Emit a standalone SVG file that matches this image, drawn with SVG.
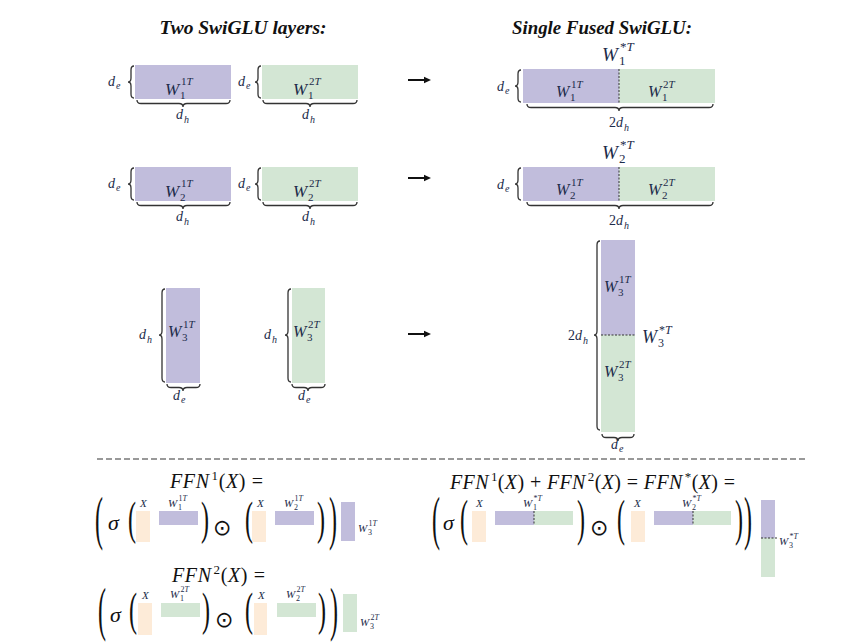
<svg xmlns="http://www.w3.org/2000/svg" width="865" height="643" viewBox="0 0 865 643">
<style>
.bg{fill:#fff}
.ttl{font-family:"Liberation Serif",serif;font-weight:bold;font-style:italic;font-size:18px;fill:#111}
.lb{font-family:"Liberation Serif",serif;fill:#1c2b4a}
.it{font-style:italic}
.fm{font-family:"Liberation Serif",serif;fill:#111}
.od{font-family:"DejaVu Sans",sans-serif;fill:#111}
.br{fill:none;stroke:#333;stroke-width:1.3}
.pu{fill:#c1bddc}.gr{fill:#d3e6d4}.pe{fill:#fdebd8}
.dv{stroke:#333;stroke-width:1;stroke-dasharray:2 1.5}
.ar{stroke:#111;stroke-width:2}
.sep{stroke:#999;stroke-width:2;stroke-dasharray:6 3}
</style>
<defs>
<marker id="ah" markerWidth="8" markerHeight="8" refX="1" refY="4" orient="auto" markerUnits="userSpaceOnUse">
<path d="M0,0.8 L7,4 L0,7.2 Z" fill="#111"/>
</marker>
</defs>
<rect class="bg" x="0" y="0" width="865" height="643"/>

<g id="titles">
<text class="ttl" x="243" y="34" text-anchor="middle" textLength="167" lengthAdjust="spacingAndGlyphs">Two SwiGLU layers:</text>
<text class="ttl" x="602" y="34" text-anchor="middle" textLength="180" lengthAdjust="spacingAndGlyphs">Single Fused SwiGLU:</text>
</g>

<!-- Row 1 left -->
<g id="w1_1">
<rect class="pu" x="135" y="65" width="96" height="34"/>
<path class="br" d="M134,66 Q131,66 131,70 L131,78 Q131,82 128,82 Q131,82 131,86 L131,94 Q131,98 134,98"/>
<path class="br" d="M137,100 Q137,103.5 141,103.5 L179,103.5 Q183,103.5 183,107 Q183,103.5 187,103.5 L226,103.5 Q230,103.5 230,100"/>
<text class="lb it" x="108" y="86" font-size="14">d</text><text class="lb it" x="116" y="89" font-size="10">e</text>
<text class="lb it" x="176" y="119" font-size="14">d</text><text class="lb it" x="184" y="123" font-size="10">h</text>
<text class="lb it" x="165" y="95" font-size="17">W</text><text class="lb" x="180" y="99" font-size="11">1</text><text class="lb" x="181" y="85" font-size="11">1<tspan class="it">T</tspan></text>
</g>
<g id="w1_2">
<rect class="gr" x="262" y="65" width="96" height="34"/>
<path class="br" d="M261,66 Q258,66 258,70 L258,78 Q258,82 255,82 Q258,82 258,86 L258,94 Q258,98 261,98"/>
<path class="br" d="M263,100 Q263,103.5 267,103.5 L306,103.5 Q310,103.5 310,107 Q310,103.5 314,103.5 L353,103.5 Q357,103.5 357,100"/>
<text class="lb it" x="238" y="86" font-size="14">d</text><text class="lb it" x="246" y="89" font-size="10">e</text>
<text class="lb it" x="302" y="119" font-size="14">d</text><text class="lb it" x="310" y="123" font-size="10">h</text>
<text class="lb it" x="293" y="95" font-size="17">W</text><text class="lb" x="308" y="99" font-size="11">1</text><text class="lb" x="309" y="85" font-size="11">2<tspan class="it">T</tspan></text>
</g>

<!-- Row 2 left -->
<g id="w2_1">
<rect class="pu" x="135" y="167" width="96" height="34"/>
<path class="br" d="M134,168 Q131,168 131,172 L131,180 Q131,184 128,184 Q131,184 131,188 L131,196 Q131,200 134,200"/>
<path class="br" d="M137,202 Q137,205.5 141,205.5 L179,205.5 Q183,205.5 183,209 Q183,205.5 187,205.5 L226,205.5 Q230,205.5 230,202"/>
<text class="lb it" x="108" y="188" font-size="14">d</text><text class="lb it" x="116" y="191" font-size="10">e</text>
<text class="lb it" x="176" y="221" font-size="14">d</text><text class="lb it" x="184" y="225" font-size="10">h</text>
<text class="lb it" x="165" y="197" font-size="17">W</text><text class="lb" x="180" y="201" font-size="11">2</text><text class="lb" x="181" y="187" font-size="11">1<tspan class="it">T</tspan></text>
</g>
<g id="w2_2">
<rect class="gr" x="262" y="167" width="96" height="34"/>
<path class="br" d="M261,168 Q258,168 258,172 L258,180 Q258,184 255,184 Q258,184 258,188 L258,196 Q258,200 261,200"/>
<path class="br" d="M263,202 Q263,205.5 267,205.5 L306,205.5 Q310,205.5 310,209 Q310,205.5 314,205.5 L353,205.5 Q357,205.5 357,202"/>
<text class="lb it" x="238" y="188" font-size="14">d</text><text class="lb it" x="246" y="191" font-size="10">e</text>
<text class="lb it" x="302" y="221" font-size="14">d</text><text class="lb it" x="310" y="225" font-size="10">h</text>
<text class="lb it" x="293" y="197" font-size="17">W</text><text class="lb" x="308" y="201" font-size="11">2</text><text class="lb" x="309" y="187" font-size="11">2<tspan class="it">T</tspan></text>
</g>

<!-- Row 3 left -->
<g id="w3_1">
<rect class="pu" x="166" y="288" width="34" height="95"/>
<path class="br" d="M165,289 Q162,289 162,293 L162,331 Q162,335 159,335 Q162,335 162,339 L162,378 Q162,382 165,382"/>
<path class="br" d="M167,384 Q167,387.5 171,387.5 L179,387.5 Q183,387.5 183,391 Q183,387.5 187,387.5 L196,387.5 Q200,387.5 200,384"/>
<text class="lb it" x="139" y="339" font-size="14">d</text><text class="lb it" x="147" y="343" font-size="10">h</text>
<text class="lb it" x="173" y="400" font-size="14">d</text><text class="lb it" x="181" y="403" font-size="10">e</text>
<text class="lb it" x="168" y="337" font-size="16">W</text><text class="lb" x="182" y="341" font-size="11">3</text><text class="lb" x="183" y="328" font-size="11">1<tspan class="it">T</tspan></text>
</g>
<g id="w3_2">
<rect class="gr" x="292" y="288" width="33" height="95"/>
<path class="br" d="M291,289 Q288,289 288,293 L288,331 Q288,335 285,335 Q288,335 288,339 L288,378 Q288,382 291,382"/>
<path class="br" d="M292,384 Q292,387.5 296,387.5 L304,387.5 Q308,387.5 308,391 Q308,387.5 312,387.5 L321,387.5 Q325,387.5 325,384"/>
<text class="lb it" x="264" y="339" font-size="14">d</text><text class="lb it" x="272" y="343" font-size="10">h</text>
<text class="lb it" x="298" y="400" font-size="14">d</text><text class="lb it" x="306" y="403" font-size="10">e</text>
<text class="lb it" x="293" y="337" font-size="16">W</text><text class="lb" x="307" y="341" font-size="11">3</text><text class="lb" x="308" y="328" font-size="11">2<tspan class="it">T</tspan></text>
</g>

<!-- Arrows -->
<g id="connectors">
<line class="ar" x1="408" y1="80" x2="425" y2="80" marker-end="url(#ah)"/>
<line class="ar" x1="408" y1="178" x2="425" y2="178" marker-end="url(#ah)"/>
<line class="ar" x1="408" y1="334" x2="425" y2="334" marker-end="url(#ah)"/>
</g>

<!-- Right row 1 -->
<g id="w1_fused">
<rect class="pu" x="523" y="69" width="96" height="34"/>
<rect class="gr" x="619" y="69" width="96" height="34"/>
<line class="dv" x1="619" y1="69" x2="619" y2="103"/>
<path class="br" d="M521,70 Q518,70 518,74 L518,82 Q518,86 515,86 Q518,86 518,90 L518,98 Q518,102 521,102"/>
<path class="br" d="M527,104 Q527,107.5 531,107.5 L615,107.5 Q619,107.5 619,111 Q619,107.5 623,107.5 L709,107.5 Q713,107.5 713,104"/>
<text class="lb it" x="497" y="91" font-size="14">d</text><text class="lb it" x="505" y="94" font-size="10">e</text>
<text class="lb" x="609" y="127" font-size="14">2<tspan class="it">d</tspan></text><text class="lb it" x="624" y="131" font-size="10">h</text>
<text class="lb it" x="556" y="97" font-size="16">W</text><text class="lb" x="570" y="101" font-size="11">1</text><text class="lb" x="571" y="88" font-size="11">1<tspan class="it">T</tspan></text>
<text class="lb it" x="648" y="97" font-size="16">W</text><text class="lb" x="662" y="101" font-size="11">1</text><text class="lb" x="663" y="88" font-size="11">2<tspan class="it">T</tspan></text>
<text class="lb it" x="602" y="61" font-size="19">W</text><text class="lb" x="619" y="65" font-size="13">1</text><text class="lb" x="620" y="51" font-size="13">*<tspan class="it">T</tspan></text>
</g>

<!-- Right row 2 -->
<g id="w2_fused">
<rect class="pu" x="523" y="167" width="96" height="34"/>
<rect class="gr" x="619" y="167" width="96" height="34"/>
<line class="dv" x1="619" y1="167" x2="619" y2="201"/>
<path class="br" d="M521,168 Q518,168 518,172 L518,180 Q518,184 515,184 Q518,184 518,188 L518,196 Q518,200 521,200"/>
<path class="br" d="M527,202 Q527,205.5 531,205.5 L615,205.5 Q619,205.5 619,209 Q619,205.5 623,205.5 L709,205.5 Q713,205.5 713,202"/>
<text class="lb it" x="497" y="189" font-size="14">d</text><text class="lb it" x="505" y="192" font-size="10">e</text>
<text class="lb" x="609" y="225" font-size="14">2<tspan class="it">d</tspan></text><text class="lb it" x="624" y="229" font-size="10">h</text>
<text class="lb it" x="556" y="195" font-size="16">W</text><text class="lb" x="570" y="199" font-size="11">2</text><text class="lb" x="571" y="186" font-size="11">1<tspan class="it">T</tspan></text>
<text class="lb it" x="648" y="195" font-size="16">W</text><text class="lb" x="662" y="199" font-size="11">2</text><text class="lb" x="663" y="186" font-size="11">2<tspan class="it">T</tspan></text>
<text class="lb it" x="602" y="159" font-size="19">W</text><text class="lb" x="619" y="163" font-size="13">2</text><text class="lb" x="620" y="149" font-size="13">*<tspan class="it">T</tspan></text>
</g>

<!-- Right row 3 -->
<g id="w3_fused">
<rect class="pu" x="601" y="240" width="34" height="95"/>
<rect class="gr" x="601" y="335" width="34" height="97"/>
<line class="dv" x1="601" y1="335" x2="635" y2="335"/>
<path class="br" d="M600,241 Q597,241 597,245 L597,331 Q597,335 594,335 Q597,335 597,339 L597,426 Q597,430 600,430"/>
<path class="br" d="M602,434 Q602,437.5 606,437.5 L614,437.5 Q618,437.5 618,441 Q618,437.5 622,437.5 L630,437.5 Q634,437.5 634,434"/>
<text class="lb" x="568" y="340" font-size="14">2<tspan class="it">d</tspan></text><text class="lb it" x="583" y="344" font-size="10">h</text>
<text class="lb it" x="611" y="449" font-size="14">d</text><text class="lb it" x="619" y="452" font-size="10">e</text>
<text class="lb it" x="604" y="292" font-size="16">W</text><text class="lb" x="618" y="296" font-size="11">3</text><text class="lb" x="619" y="283" font-size="11">1<tspan class="it">T</tspan></text>
<text class="lb it" x="604" y="377" font-size="16">W</text><text class="lb" x="618" y="381" font-size="11">3</text><text class="lb" x="619" y="368" font-size="11">2<tspan class="it">T</tspan></text>
<text class="lb it" x="642" y="343" font-size="18">W</text><text class="lb" x="658" y="347" font-size="12">3</text><text class="lb" x="659" y="334" font-size="12">*<tspan class="it">T</tspan></text>
</g>

<line class="sep" x1="97" y1="459" x2="805" y2="459"/>

<!-- FFN1 formula -->
<g id="ffn1">
<text class="fm" x="170" y="488" font-size="20" textLength="93"><tspan class="it">FFN</tspan><tspan font-size="13" dx="2" dy="-8">1</tspan><tspan dy="8">(</tspan><tspan class="it">X</tspan>) =</text>
<text class="fm" font-size="24" transform="translate(95,538) scale(1,2.5)">(</text>
<text class="fm it" x="108" y="530" font-size="22">σ</text>
<text class="fm" font-size="24" transform="translate(128,534) scale(1,1.95)">(</text>
<rect class="pe" x="136" y="511" width="14" height="31"/>
<text class="lb it" x="140" y="507" font-size="11">X</text>
<rect class="pu" x="159" y="511" width="39" height="14"/>
<text class="lb it" x="168" y="507" font-size="11">W</text><text class="lb" x="178" y="510" font-size="8">1</text><text class="lb" x="178.5" y="501" font-size="8">1<tspan class="it">T</tspan></text>
<text class="fm" font-size="24" transform="translate(201,534) scale(1,1.95)">)</text>
<text class="od" x="213" y="535" font-size="22">⊙</text>
<text class="fm" font-size="24" transform="translate(245,534) scale(1,1.95)">(</text>
<rect class="pe" x="252" y="511" width="14" height="31"/>
<text class="lb it" x="257" y="507" font-size="11">X</text>
<rect class="pu" x="275" y="511" width="39" height="14"/>
<text class="lb it" x="284" y="507" font-size="11">W</text><text class="lb" x="294" y="510" font-size="8">2</text><text class="lb" x="294.5" y="501" font-size="8">1<tspan class="it">T</tspan></text>
<text class="fm" font-size="24" transform="translate(317,534) scale(1,1.95)">)</text>
<text class="fm" font-size="24" transform="translate(329,538) scale(1,2.5)">)</text>
<rect class="pu" x="341" y="502" width="14" height="39"/>
<text class="lb it" x="358" y="532" font-size="11">W</text><text class="lb" x="368" y="535" font-size="8">3</text><text class="lb" x="368.5" y="526" font-size="8">1<tspan class="it">T</tspan></text>
</g>

<!-- FFN2 formula -->
<g id="ffn2">
<text class="fm" x="172" y="582" font-size="20" textLength="93"><tspan class="it">FFN</tspan><tspan font-size="13" dx="2" dy="-8">2</tspan><tspan dy="8">(</tspan><tspan class="it">X</tspan>) =</text>
<text class="fm" font-size="24" transform="translate(98,629) scale(1,2.5)">(</text>
<text class="fm it" x="110" y="622" font-size="22">σ</text>
<text class="fm" font-size="24" transform="translate(129,625) scale(1,1.95)">(</text>
<rect class="pe" x="138" y="603" width="14" height="32"/>
<text class="lb it" x="142" y="599" font-size="11">X</text>
<rect class="gr" x="161" y="603" width="39" height="14"/>
<text class="lb it" x="170" y="598" font-size="11">W</text><text class="lb" x="180" y="601" font-size="8">1</text><text class="lb" x="180.5" y="592" font-size="8">2<tspan class="it">T</tspan></text>
<text class="fm" font-size="24" transform="translate(202,625) scale(1,1.95)">)</text>
<text class="od" x="215" y="627" font-size="22">⊙</text>
<text class="fm" font-size="24" transform="translate(245,625) scale(1,1.95)">(</text>
<rect class="pe" x="254" y="603" width="13" height="32"/>
<text class="lb it" x="258" y="599" font-size="11">X</text>
<rect class="gr" x="277" y="603" width="39" height="14"/>
<text class="lb it" x="286" y="598" font-size="11">W</text><text class="lb" x="296" y="601" font-size="8">2</text><text class="lb" x="296.5" y="592" font-size="8">2<tspan class="it">T</tspan></text>
<text class="fm" font-size="24" transform="translate(318,625) scale(1,1.95)">)</text>
<text class="fm" font-size="24" transform="translate(330,629) scale(1,2.5)">)</text>
<rect class="gr" x="343" y="594" width="14" height="38"/>
<text class="lb it" x="360" y="626" font-size="11">W</text><text class="lb" x="370" y="629" font-size="8">3</text><text class="lb" x="370.5" y="620" font-size="8">2<tspan class="it">T</tspan></text>
</g>

<!-- Fused formula -->
<g id="ffn_fused">
<text class="fm" x="450" y="489" font-size="20" textLength="285"><tspan class="it">FFN</tspan><tspan font-size="13" dx="2" dy="-8">1</tspan><tspan dy="8">(</tspan><tspan class="it">X</tspan>) + <tspan class="it">FFN</tspan><tspan font-size="13" dx="2" dy="-8">2</tspan><tspan dy="8">(</tspan><tspan class="it">X</tspan>) = <tspan class="it">FFN</tspan><tspan font-size="13" dx="2" dy="-8">*</tspan><tspan dy="8">(</tspan><tspan class="it">X</tspan>) =</text>
<text class="fm" font-size="24" transform="translate(432,538) scale(1,2.5)">(</text>
<text class="fm it" x="443" y="530" font-size="22">σ</text>
<text class="fm" font-size="24" transform="translate(460,535) scale(1,2.1)">(</text>
<rect class="pe" x="472" y="511" width="14" height="31"/>
<text class="lb it" x="476" y="507" font-size="11">X</text>
<rect class="pu" x="495" y="511" width="39" height="14"/>
<rect class="gr" x="534" y="511" width="39" height="14"/>
<line class="dv" x1="534" y1="511" x2="534" y2="525"/>
<text class="lb it" x="523" y="507" font-size="11">W</text><text class="lb" x="533" y="510" font-size="8">1</text><text class="lb" x="533.5" y="501" font-size="8">*<tspan class="it">T</tspan></text>
<text class="fm" font-size="24" transform="translate(577,535) scale(1,2.1)">)</text>
<text class="od" x="590" y="535" font-size="22">⊙</text>
<text class="fm" font-size="24" transform="translate(617,535) scale(1,2.1)">(</text>
<rect class="pe" x="631" y="511" width="14" height="31"/>
<text class="lb it" x="634" y="507" font-size="11">X</text>
<rect class="pu" x="654" y="511" width="39" height="14"/>
<rect class="gr" x="693" y="511" width="38" height="14"/>
<line class="dv" x1="693" y1="511" x2="693" y2="525"/>
<text class="lb it" x="682" y="507" font-size="11">W</text><text class="lb" x="692" y="510" font-size="8">2</text><text class="lb" x="692.5" y="501" font-size="8">*<tspan class="it">T</tspan></text>
<text class="fm" font-size="24" transform="translate(735,535) scale(1,2.1)">)</text>
<text class="fm" font-size="24" transform="translate(744,538) scale(1,2.5)">)</text>
<rect class="pu" x="761" y="500" width="14" height="38"/>
<rect class="gr" x="761" y="538" width="14" height="39"/>
<line class="dv" x1="761" y1="538" x2="777" y2="538"/>
<text class="lb it" x="779" y="545" font-size="11">W</text><text class="lb" x="789" y="548" font-size="8">3</text><text class="lb" x="789.5" y="539" font-size="8">*<tspan class="it">T</tspan></text>
</g>
</svg>
